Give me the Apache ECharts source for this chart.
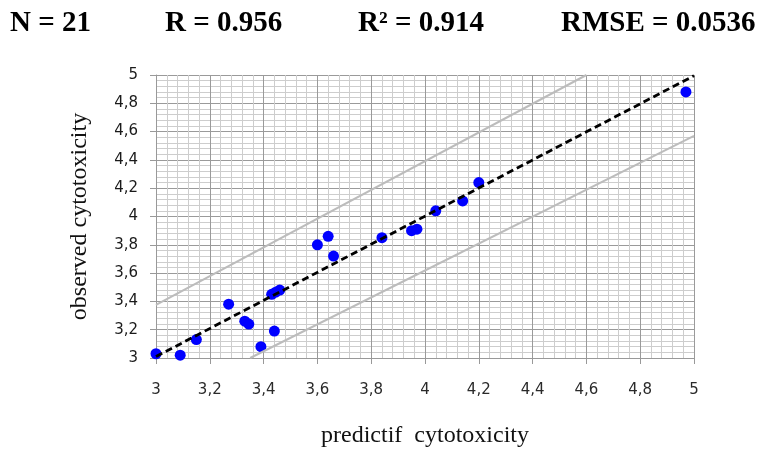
<!DOCTYPE html>
<html>
<head>
<meta charset="utf-8">
<script src="https://cdn.jsdelivr.net/npm/echarts@6/dist/echarts.min.js"></script>
<style>
  html, body { margin: 0; padding: 0; background: #fff; }
  #chart { width: 761px; height: 453px; }
</style>
</head>
<body>
<div id="chart"></div>
<script>
const predicted = [3.00, 3.09, 3.15, 3.27, 3.33, 3.345, 3.39, 3.44, 3.43, 3.445, 3.46,
  3.60, 3.64, 3.66, 3.84, 3.95, 3.97, 4.04, 4.14, 4.20, 4.97]
const observed = [3.03, 3.02, 3.13, 3.38, 3.26, 3.24, 3.08, 3.19, 3.45, 3.465, 3.48,
  3.80, 3.86, 3.72, 3.85, 3.90, 3.91, 4.04, 4.11, 4.24, 4.88]

// regression line and the two confidence bounds (end points)
const fitLine = [[3.0, 3.01], [5.0, 4.995]]
const upperBound = [[3.0, 3.375], [4.6, 5.0]]
const lowerBound = [[3.35, 3.0], [5.0, 4.57]]

const tickLabels = ['3', '3,2', '3,4', '3,6', '3,8', '4', '4,2', '4,4', '4,6', '4,8', '5']
const stats = ['N = 21', 'R = 0.956', 'R² = 0.914', 'RMSE = 0.0536']
const statsLeft = [10, 165, 358, 561]

const chart = echarts.init(document.getElementById('chart'))

function fmt(v) {
  const i = Math.round((v - 3) / 0.2)
  return tickLabels[i] !== undefined ? tickLabels[i] : ''
}

const axisCommon = {
  type: 'value',
  min: 3,
  max: 5,
  interval: 0.2,
  axisLine: { show: true, lineStyle: { color: '#999', width: 1 } },
  axisTick: { show: true, length: 6, lineStyle: { color: '#999' } },
  splitLine: { show: true, lineStyle: { color: '#9a9a9a', width: 1 } },
  minorTick: { show: false, splitNumber: 5 },
  minorSplitLine: { show: true, lineStyle: { color: '#cdcdcd', width: 1 } },
  nameLocation: 'middle',
  nameTextStyle: { fontFamily: 'Liberation Serif', fontSize: 24, color: '#111' }
}

const option = {
  animation: false,
  title: stats.map((t, i) => ({
    text: t,
    left: statsLeft[i],
    top: 9,
    padding: 0,
    textStyle: { fontFamily: 'Liberation Serif', fontWeight: 'bold', fontSize: 29, color: '#000' }
  })),
  grid: { left: 156, right: 67, top: 75, bottom: 91 },
  xAxis: Object.assign({}, axisCommon, {
    name: 'predictif  cytotoxicity',
    nameGap: 66,
    axisLabel: { margin: 25, formatter: fmt, fontFamily: 'DejaVu Sans', fontSize: 15, color: '#2a2a2a' }
  }),
  yAxis: Object.assign({}, axisCommon, {
    name: 'observed cytotoxicity',
    nameGap: 64,
    axisLabel: { margin: 18, formatter: fmt, fontFamily: 'DejaVu Sans', fontSize: 15, color: '#1a1a1a' }
  }),
  series: [
    {
      type: 'line',
      data: upperBound,
      symbol: 'none',
      lineStyle: { color: '#bcbcbc', width: 2 }
    },
    {
      type: 'line',
      data: lowerBound,
      symbol: 'none',
      lineStyle: { color: '#bcbcbc', width: 2 }
    },
    {
      type: 'line',
      data: fitLine,
      symbol: 'none',
      lineStyle: { color: '#000', width: 2.8, type: [7, 4] }
    },
    {
      type: 'scatter',
      data: predicted.map((p, i) => [p, observed[i]]),
      symbolSize: 11,
      itemStyle: { color: '#0000ff', opacity: 1 }
    }
  ]
}

chart.setOption(option)
</script>
</body>
</html>
